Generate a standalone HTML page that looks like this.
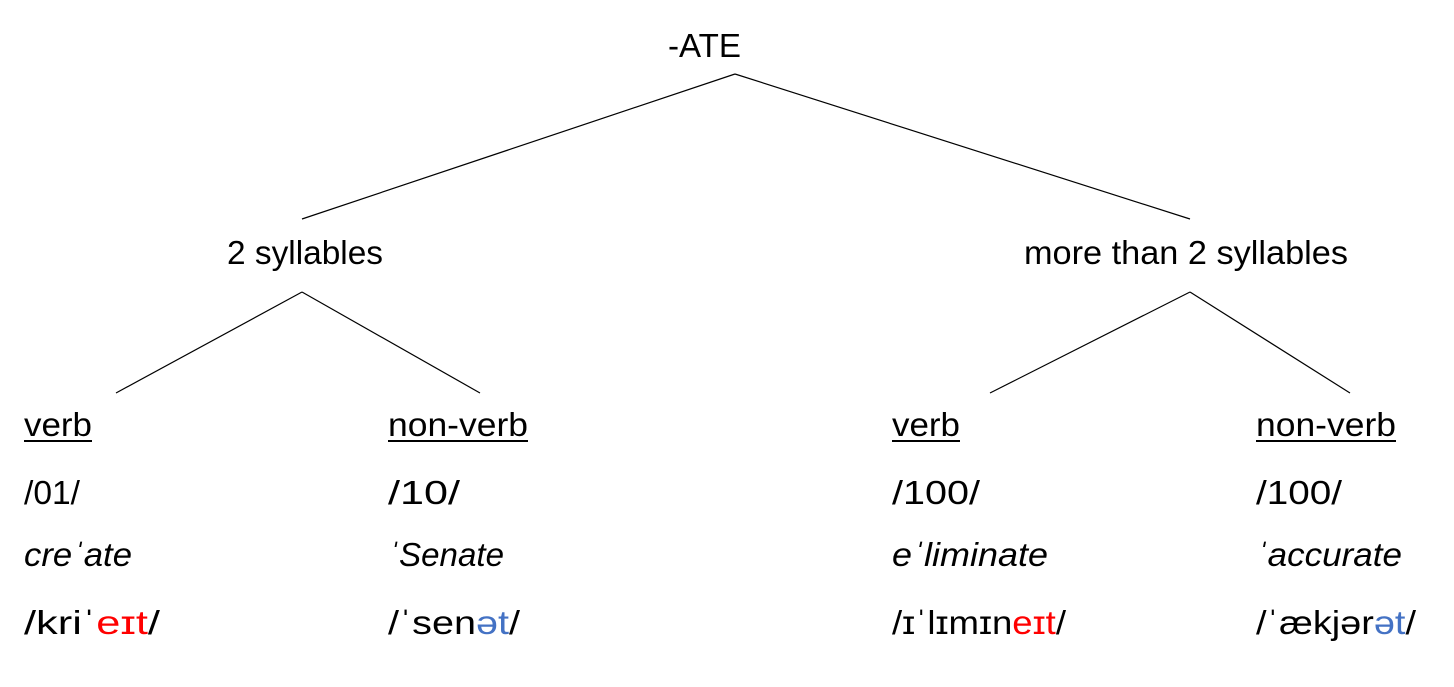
<!DOCTYPE html>
<html><head><meta charset="utf-8"><style>
html,body{margin:0;padding:0;background:#fff;}
svg{display:block;}
text{font-family:"Liberation Sans","DejaVu Sans",sans-serif;font-size:33px;fill:#000;}
.i{font-style:italic;}
</style></head><body>
<svg width="1454" height="687" viewBox="0 0 1454 687" xmlns="http://www.w3.org/2000/svg">
<g stroke="#000" stroke-width="1.2" fill="none">
<line x1="735" y1="74" x2="302" y2="219"/>
<line x1="735" y1="74" x2="1190" y2="219"/>
<line x1="302" y1="292" x2="116" y2="393"/>
<line x1="302" y1="292" x2="480" y2="393"/>
<line x1="1190" y1="292" x2="990" y2="393"/>
<line x1="1190" y1="292" x2="1350" y2="393"/>
<line x1="24" y1="441" x2="92" y2="441" stroke-width="2"/>
<line x1="388" y1="441" x2="528" y2="441" stroke-width="2"/>
<line x1="892" y1="441" x2="960" y2="441" stroke-width="2"/>
<line x1="1256" y1="441" x2="1396" y2="441" stroke-width="2"/>
</g>
<text x="668" y="57" textLength="73" lengthAdjust="spacingAndGlyphs">-ATE</text>
<text x="227" y="264" textLength="156" lengthAdjust="spacingAndGlyphs">2 syllables</text>
<text x="1024" y="264" textLength="324" lengthAdjust="spacingAndGlyphs">more than 2 syllables</text>

<text x="24" y="436" textLength="68" lengthAdjust="spacingAndGlyphs">verb</text>
<text x="388" y="436" textLength="140" lengthAdjust="spacingAndGlyphs">non-verb</text>
<text x="892" y="436" textLength="68" lengthAdjust="spacingAndGlyphs">verb</text>
<text x="1256" y="436" textLength="140" lengthAdjust="spacingAndGlyphs">non-verb</text>

<text x="24" y="504" textLength="56" lengthAdjust="spacingAndGlyphs">/01/</text>
<text x="388" y="504" textLength="72" lengthAdjust="spacingAndGlyphs">/10/</text>
<text x="892" y="504" textLength="88" lengthAdjust="spacingAndGlyphs">/100/</text>
<text x="1256" y="504" textLength="86" lengthAdjust="spacingAndGlyphs">/100/</text>

<text class="i" x="24" y="566" textLength="108" lengthAdjust="spacingAndGlyphs">creˈate</text>
<text class="i" x="388" y="566" textLength="116" lengthAdjust="spacingAndGlyphs">ˈSenate</text>
<text class="i" x="892" y="566" textLength="156" lengthAdjust="spacingAndGlyphs">eˈliminate</text>
<text class="i" x="1256" y="566" textLength="146" lengthAdjust="spacingAndGlyphs">ˈaccurate</text>

<text x="24" y="634" textLength="136" lengthAdjust="spacingAndGlyphs">/kriˈ<tspan fill="#ff0000">eɪt</tspan>/</text>
<text x="388" y="634" textLength="132" lengthAdjust="spacingAndGlyphs">/ˈsen<tspan fill="#4472c4">ət</tspan>/</text>
<text x="892" y="634" textLength="174" lengthAdjust="spacingAndGlyphs">/ɪˈlɪmɪn<tspan fill="#ff0000">eɪt</tspan>/</text>
<text x="1256" y="634" textLength="160" lengthAdjust="spacingAndGlyphs">/ˈækjər<tspan fill="#4472c4">ət</tspan>/</text>
</svg>
</body></html>
